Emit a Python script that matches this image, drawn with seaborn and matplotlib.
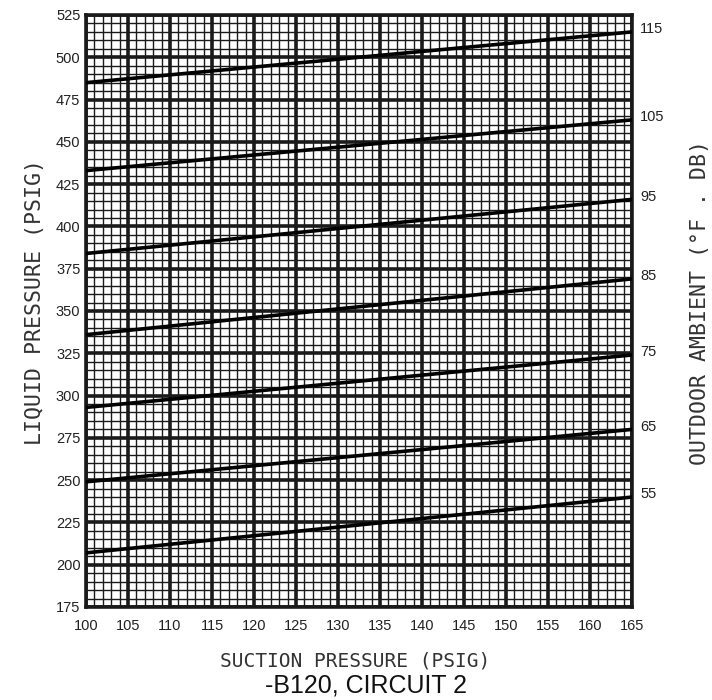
import numpy as np
import pandas as pd
import matplotlib
matplotlib.use('Agg')
import matplotlib.pyplot as plt
import seaborn as sns

# Данные: температура наружного воздуха и давление жидкости на краях диапазона
ambient = [55, 65, 75, 85, 95, 105, 115]
suction_range = [100, 165]
liquid_at_100 = [207, 249, 293, 336, 384, 433, 485]
liquid_at_165 = [240, 280, 324, 369, 416, 463, 515]

x_ticks = list(range(100, 166, 5))
y_ticks = list(range(175, 526, 25))

rows = []
for t, lo, hi in zip(ambient, liquid_at_100, liquid_at_165):
    rows.append({'ambient': t, 'suction': suction_range[0], 'liquid': lo})
    rows.append({'ambient': t, 'suction': suction_range[1], 'liquid': hi})
df = pd.DataFrame(rows)

sns.set_style('white')
plt.rcParams['font.family'] = ['Liberation Sans', 'DejaVu Sans']

fig = plt.figure(figsize=(7.12, 7.0), dpi=100)
ax = fig.add_axes([86 / 712, 1 - 607 / 700, (632 - 86) / 712, (607 - 15) / 700])

sns.lineplot(data=df, x='suction', y='liquid', units='ambient', estimator=None,
             color='black', lw=2.6, ax=ax, legend=False, zorder=5)

ax.set_xlim(100, 165)
ax.set_ylim(175, 525)
ax.set_xticks(x_ticks)
ax.set_yticks(y_ticks)
ax.set_xticks(np.arange(100, 166, 1), minor=True)
ax.set_yticks(np.arange(175, 526, 5), minor=True)
ax.grid(which='minor', color='#1a1a1a', lw=1.0)
ax.grid(which='major', color='#1a1a1a', lw=2.6)
ax.set_axisbelow(True)
ax.tick_params(which='both', length=0, labelsize=10.5, colors='#222222')
ax.tick_params(axis='x', pad=9)
ax.tick_params(axis='y', pad=4)
for s in ax.spines.values():
    s.set_linewidth(2.6)
    s.set_color('#1a1a1a')
ax.set_xlabel('')
ax.set_ylabel('')

# подписи температур справа
for t, hi in zip(ambient, liquid_at_165):
    ax.annotate(str(t), xy=(165, hi), xytext=(6, 2), textcoords='offset points',
                va='center', ha='left', fontsize=10.5, color='#222222',
                annotation_clip=False)

mono = ['DejaVu Sans Mono']
fig.text(355 / 712, 1 - 661 / 700, 'SUCTION PRESSURE (PSIG)', ha='center',
         va='center', fontsize=14, family=mono, color='#333333')
fig.text(366 / 712, 1 - 686 / 700, '-B120, CIRCUIT 2', ha='center',
         va='center', fontsize=18, color='#111111')
fig.text(35 / 712, 1 - 302 / 700, 'LIQUID PRESSURE (PSIG)', ha='center',
         va='center', rotation=90, fontsize=15.5, family=mono, color='#333333')
fig.text(700 / 712, 1 - 302 / 700, 'OUTDOOR AMBIENT (°F . DB)', ha='center',
         va='center', rotation=90, fontsize=15.5, family=mono, color='#333333')

fig.savefig('out.png', dpi=100)
